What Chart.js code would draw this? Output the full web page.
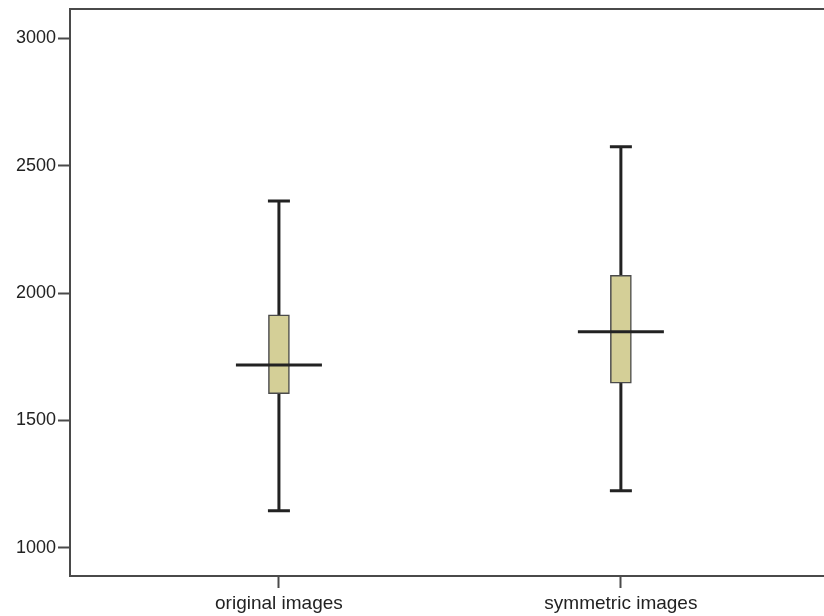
<!DOCTYPE html>
<html>
<head>
<meta charset="utf-8">
<script src="https://cdn.jsdelivr.net/npm/chart.js@4"></script>
<style>
  html, body { margin: 0; padding: 0; background: #fff; }
  #wrap { width: 824px; height: 616px; }
</style>
</head>
<body>
<div id="wrap"><canvas id="boxChart"></canvas></div>
<script>
const labels = ["original images", "symmetric images"];
const whiskerMin = [1146, 1224];
const q1 = [1605, 1646];
const median = [1718, 1848];
const q3 = [1914, 2069];
const whiskerMax = [2361, 2574];
const yTicks = [1000, 1500, 2000, 2500, 3000];

document.addEventListener("DOMContentLoaded", function () {

  const lineColor = "#222";
  const frameColor = "#4a4a4a";

  // whiskers behind the boxes, medians on top
  const boxPlotLines = {
    id: "boxPlotLines",
    beforeDatasetsDraw(chart) {
      const ctx = chart.ctx;
      const xs = chart.scales.x;
      const ys = chart.scales.y;
      ctx.save();
      ctx.strokeStyle = lineColor;
      ctx.lineWidth = 3;
      labels.forEach((lab, i) => {
        const x = xs.getPixelForValue(i + 1);
        const top = ys.getPixelForValue(whiskerMax[i]);
        const bot = ys.getPixelForValue(whiskerMin[i]);
        ctx.beginPath();
        ctx.moveTo(x, top);
        ctx.lineTo(x, bot);
        ctx.moveTo(x - 11, top);
        ctx.lineTo(x + 11, top);
        ctx.moveTo(x - 11, bot);
        ctx.lineTo(x + 11, bot);
        ctx.stroke();
      });
      ctx.restore();
    },
    afterDatasetsDraw(chart) {
      const ctx = chart.ctx;
      const xs = chart.scales.x;
      const ys = chart.scales.y;
      const area = chart.chartArea;
      ctx.save();
      ctx.strokeStyle = lineColor;
      ctx.lineWidth = 3;
      labels.forEach((lab, i) => {
        const x = xs.getPixelForValue(i + 1);
        const y = ys.getPixelForValue(median[i]);
        ctx.beginPath();
        ctx.moveTo(x - 43, y);
        ctx.lineTo(x + 43, y);
        ctx.stroke();
      });
      // top frame line
      ctx.strokeStyle = frameColor;
      ctx.lineWidth = 2;
      ctx.beginPath();
      ctx.moveTo(area.left, area.top);
      ctx.lineTo(area.right, area.top);
      ctx.stroke();
      ctx.restore();
    }
  };

  const ctx = document.getElementById("boxChart");
  new Chart(ctx, {
    type: "bar",
    data: {
      datasets: [{
        data: labels.map((lab, i) => ({ x: i + 1, y: [q1[i], q3[i]] })),
        backgroundColor: "#d4cf97",
        borderColor: "#4a4a4a",
        borderWidth: 1.5,
        borderSkipped: false,
        barThickness: 21,
      }],
    },
    options: {
      responsive: true,
      maintainAspectRatio: false,
      animation: false,
      layout: { padding: { top: 9, right: 0, left: 0, bottom: 0 } },
      plugins: {
        legend: { display: false },
        tooltip: { enabled: false },
      },
      scales: {
        x: {
          type: "linear",
          offset: false,
          min: 0.389,
          max: 2.594,
          afterBuildTicks: (scale) => {
            scale.ticks = labels.map((lab, i) => ({ value: i + 1 }));
          },
          afterFit: (scale) => {
            scale.height = 40;
            scale.paddingLeft = 0;
            scale.paddingRight = 0;
          },
          ticks: {
            autoSkip: false,
            maxRotation: 0,
            padding: 4,
            color: "#222",
            font: { family: "Liberation Sans", size: 19 },
            callback: (v) => labels[v - 1],
          },
          grid: {
            offset: false,
            drawOnChartArea: false,
            tickLength: 12,
            tickWidth: 2,
            tickColor: frameColor,
          },
          border: { display: true, color: frameColor, width: 2 },
        },
        y: {
          min: 890,
          max: 3114,
          afterBuildTicks: (scale) => {
            scale.ticks = yTicks.map((v) => ({ value: v }));
          },
          afterFit: (scale) => {
            scale.width = 70;
            scale.paddingTop = 0;
            scale.paddingBottom = 0;
          },
          ticks: {
            padding: 2,
            color: "#222",
            font: { family: "Liberation Sans", size: 18 },
            callback: (v) => String(v),
          },
          grid: {
            drawOnChartArea: false,
            tickLength: 12,
            tickWidth: 2,
            tickColor: frameColor,
          },
          border: { display: true, color: frameColor, width: 2 },
        },
      },
    },
    plugins: [boxPlotLines],
  });
});
</script>
</body>
</html>
